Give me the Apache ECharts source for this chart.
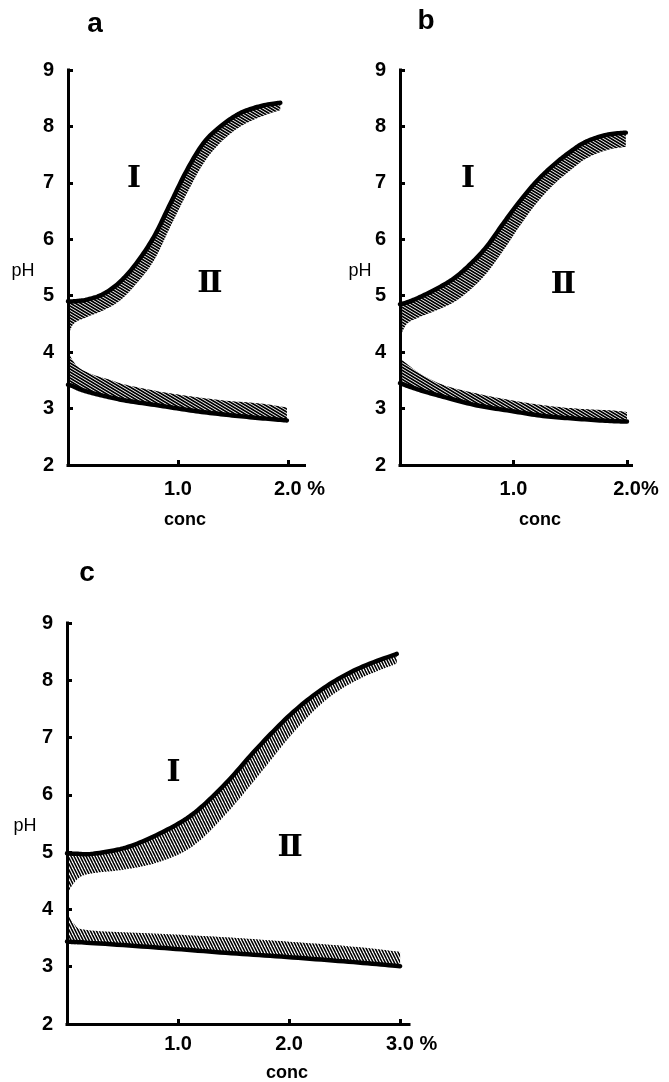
<!DOCTYPE html>
<html>
<head>
<meta charset="utf-8">
<script src="https://cdn.jsdelivr.net/npm/echarts@6/dist/echarts.min.js"></script>
<style>
  html, body { margin: 0; background: #fff; }
  #chart-container { width: 669px; height: 1082px; }
</style>
</head>
<body>
<div id="chart-container"></div>
<script>
// panel a: upper band (edge on top) and lower band (edge at bottom)
var aUpperX = [0, 0.05, 0.17, 0.32, 0.47, 0.62, 0.78, 0.93, 1.08, 1.23, 1.38, 1.56, 1.75, 1.93];
var aUpperTop = [4.90, 4.90, 4.93, 5.03, 5.24, 5.57, 6.04, 6.63, 7.22, 7.70, 7.99, 8.23, 8.36, 8.42];
var aUpperBottom = [4.26, 4.50, 4.62, 4.74, 4.91, 5.21, 5.62, 6.22, 6.81, 7.34, 7.70, 7.99, 8.17, 8.29];
var aLowerX = [0, 0.04, 0.11, 0.23, 0.38, 0.53, 0.84, 1.14, 1.44, 1.75, 1.99];
var aLowerTop = [4.04, 3.86, 3.71, 3.60, 3.51, 3.42, 3.30, 3.21, 3.14, 3.09, 3.02];
var aLowerBottom = [3.42, 3.40, 3.34, 3.27, 3.20, 3.14, 3.05, 2.96, 2.89, 2.83, 2.79];

// panel b
var bUpperX = [0, 0.06, 0.17, 0.32, 0.47, 0.61, 0.76, 0.91, 1.05, 1.2, 1.35, 1.5, 1.64, 1.82, 1.99];
var bUpperTop = [4.85, 4.88, 4.97, 5.12, 5.30, 5.54, 5.86, 6.28, 6.66, 7.02, 7.31, 7.55, 7.73, 7.85, 7.89];
var bUpperBottom = [4.26, 4.50, 4.62, 4.74, 4.88, 5.09, 5.39, 5.80, 6.22, 6.63, 6.96, 7.22, 7.43, 7.58, 7.64];
var bLowerX = [0, 0.17, 0.38, 0.67, 0.97, 1.26, 1.55, 1.85, 2.0];
var bLowerTop = [3.89, 3.63, 3.42, 3.27, 3.15, 3.06, 3.00, 2.97, 2.94];
var bLowerBottom = [3.45, 3.33, 3.21, 3.06, 2.96, 2.87, 2.82, 2.78, 2.77];

// panel c
var cUpperX = [0, 0.1, 0.23, 0.53, 0.83, 1.13, 1.43, 1.73, 2.04, 2.34, 2.64, 2.97];
var cUpperTop = [4.98, 4.97, 4.97, 5.08, 5.32, 5.66, 6.2, 6.85, 7.45, 7.9, 8.22, 8.46];
var cUpperBottom = [4.28, 4.54, 4.63, 4.7, 4.83, 5.1, 5.66, 6.35, 7.09, 7.67, 8.03, 8.29];
var cLowerX = [0, 0.06, 0.18, 0.78, 1.38, 1.98, 2.58, 3.0];
var cLowerTop = [3.96, 3.76, 3.64, 3.58, 3.52, 3.44, 3.35, 3.26];
var cLowerBottom = [3.44, 3.43, 3.42, 3.34, 3.25, 3.17, 3.08, 3.01];

// region labels I / II
var regionNames = ['I', 'Ⅱ'];
var aRegionX = [0.6, 1.29], aRegionY = [7.07, 5.2];
var bRegionX = [0.6, 1.44], bRegionY = [7.07, 5.19];
var cRegionX = [0.96, 2.01], cRegionY = [6.38, 5.07];

var yTicks = [2, 3, 4, 5, 6, 7, 8, 9];
var abTicks = [1, 2];
var cTicks = [1, 2, 3];

var dom = document.getElementById('chart-container');
var myChart = echarts.init(dom, null, { renderer: 'canvas' });

function hatch(w, h, lw) {
  var c = document.createElement('canvas');
  c.width = w; c.height = h;
  var g = c.getContext('2d');
  g.strokeStyle = '#000';
  g.lineWidth = lw;
  for (var k = -1; k <= 1; k++) {
    g.beginPath();
    g.moveTo(-w, k * h - h);
    g.lineTo(2 * w, k * h + 2 * h);
    g.stroke();
  }
  return { image: c, repeat: 'repeat' };
}

// catmull-rom through the pixel points, only for drawing
function spline(pts) {
  var out = [];
  for (var i = 0; i < pts.length - 1; i++) {
    var p0 = pts[i - 1] || pts[i], p1 = pts[i], p2 = pts[i + 1], p3 = pts[i + 2] || pts[i + 1];
    for (var s = 0; s < 12; s++) {
      var t = s / 12, t2 = t * t, t3 = t2 * t;
      out.push([0, 1].map(function (d) {
        return 0.5 * (2 * p1[d] + (p2[d] - p0[d]) * t +
          (2 * p0[d] - 5 * p1[d] + 4 * p2[d] - p3[d]) * t2 +
          (3 * p1[d] - p0[d] - 3 * p2[d] + p3[d]) * t3);
      }));
    }
  }
  out.push(pts[pts.length - 1]);
  return out;
}

function band(grid, xs, tops, bots, edge, pattern) {
  return {
    type: 'custom',
    xAxisIndex: grid,
    yAxisIndex: grid,
    silent: true,
    data: xs.map(function (x, i) { return [x, tops[i], bots[i]]; }),
    encode: { x: 0, y: [1, 2] },
    renderItem: function (params, api) {
      if (params.dataIndexInside !== 0) return null;
      var up = [], lo = [];
      for (var i = 0; i < params.dataInsideLength; i++) {
        var x = api.value(0, i);
        up.push(api.coord([x, api.value(1, i)]));
        lo.push(api.coord([x, api.value(2, i)]));
      }
      up = spline(up);
      lo = spline(lo);
      return {
        type: 'group',
        children: [
          { type: 'polygon', shape: { points: up.concat(lo.slice().reverse()) }, style: { fill: pattern, stroke: 'none' } },
          { type: 'polyline', shape: { points: edge === 'top' ? up : lo },
            style: { stroke: '#000', lineWidth: 4.5, fill: 'none', lineJoin: 'round', lineCap: 'round' } }
        ]
      };
    }
  };
}

function regions(grid, xs, ys) {
  return {
    type: 'scatter',
    xAxisIndex: grid,
    yAxisIndex: grid,
    silent: true,
    symbolSize: 1,
    itemStyle: { color: 'rgba(0,0,0,0)' },
    data: regionNames.map(function (n, i) { return { name: n, value: [xs[i], ys[i]] }; }),
    label: {
      show: true, position: 'inside', formatter: '{b}', color: '#000', opacity: 1,
      fontFamily: 'DejaVu Serif', fontWeight: 'bold', fontSize: 30
    }
  };
}

var tickFont = { color: '#000', fontFamily: 'Liberation Sans', fontWeight: 'bold', fontSize: 20 };

function xAxis(grid, max, ticks, pct, padW, margin) {
  return {
    type: 'value', gridIndex: grid, min: 0, max: max, interval: 1,
    axisLine: { show: true, onZero: false, lineStyle: { color: '#000', width: 3, cap: 'square' } },
    axisTick: { show: true, inside: true, length: 5, customValues: ticks, lineStyle: { color: '#000', width: 3 } },
    splitLine: { show: false },
    axisLabel: Object.assign({
      margin: margin,
      customValues: ticks,
      formatter: function (v) {
        var t = v.toFixed(1);
        return v === ticks[ticks.length - 1] ? '{pad| }' + t + '{pct|' + pct + '}' : t;
      },
      rich: { pad: { width: padW }, pct: {} }
    }, tickFont)
  };
}

function yAxis(grid) {
  return {
    type: 'value', gridIndex: grid, min: 2, max: 9, interval: 1,
    axisLine: { show: true, onZero: false, lineStyle: { color: '#000', width: 3, cap: 'square' } },
    axisTick: { show: true, inside: true, length: 5, lineStyle: { color: '#000', width: 3 } },
    splitLine: { show: false },
    axisLabel: Object.assign({ margin: 14, customValues: yTicks }, tickFont)
  };
}

function txt(s, x, y, font) {
  return {
    type: 'text', x: x, y: y, silent: true,
    style: { text: s, font: font, fill: '#000', textAlign: 'center', textVerticalAlign: 'middle', align: 'center', verticalAlign: 'middle' }
  };
}

var hatchAB = hatch(5, 3, 1.8);
var hatchC = hatch(3, 6, 1.6);

var option = {
  animation: false,
  backgroundColor: '#fff',
  grid: [
    { left: 68, top: 70, width: 236.5, height: 395, containLabel: false, outerBoundsMode: 'none' },
    { left: 400, top: 70, width: 231.5, height: 395, containLabel: false, outerBoundsMode: 'none' },
    { left: 67, top: 623, width: 342, height: 401, containLabel: false, outerBoundsMode: 'none' }
  ],
  xAxis: [
    xAxis(0, 2.15, abTicks, ' %', 23, 14),
    xAxis(1, 2.04, abTicks, '%', 18, 14),
    xAxis(2, 3.08, cTicks, ' %', 23, 10)
  ],
  yAxis: [yAxis(0), yAxis(1), yAxis(2)],
  graphic: [
    txt('a', 95, 24, 'bold 28px "Liberation Sans"'),
    txt('b', 426, 21, 'bold 28px "Liberation Sans"'),
    txt('c', 87, 573, 'bold 28px "Liberation Sans"'),
    txt('pH', 23, 271, '18px "Liberation Sans"'),
    txt('pH', 360, 271, '18px "Liberation Sans"'),
    txt('pH', 25, 826, '18px "Liberation Sans"'),
    txt('conc', 185, 520, 'bold 18px "Liberation Sans"'),
    txt('conc', 540, 520, 'bold 18px "Liberation Sans"'),
    txt('conc', 287, 1073, 'bold 18px "Liberation Sans"')
  ],
  series: [
    band(0, aUpperX, aUpperTop, aUpperBottom, 'top', hatchAB),
    band(0, aLowerX, aLowerTop, aLowerBottom, 'bottom', hatchAB),
    band(1, bUpperX, bUpperTop, bUpperBottom, 'top', hatchAB),
    band(1, bLowerX, bLowerTop, bLowerBottom, 'bottom', hatchAB),
    band(2, cUpperX, cUpperTop, cUpperBottom, 'top', hatchC),
    band(2, cLowerX, cLowerTop, cLowerBottom, 'bottom', hatchC),
    regions(0, aRegionX, aRegionY),
    regions(1, bRegionX, bRegionY),
    regions(2, cRegionX, cRegionY)
  ]
};

myChart.setOption(option);
window.addEventListener('resize', myChart.resize);
</script>
</body>
</html>
